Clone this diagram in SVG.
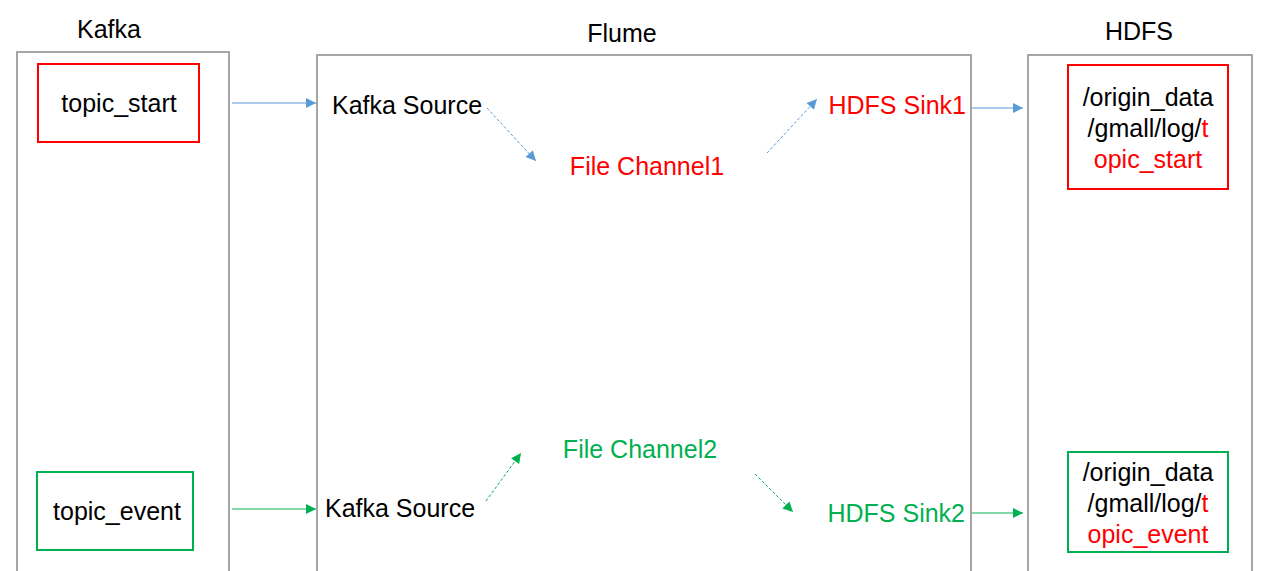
<svg xmlns="http://www.w3.org/2000/svg" width="1269" height="571" viewBox="0 0 1269 571">
<style>
text{font-family:"Liberation Sans",Arial,sans-serif;font-size:25px;fill:#000}
.red{fill:#ff0000}.grn{fill:#00b050}
.cont{fill:none;stroke:#a6a6a6;stroke-width:2}
.rbox{fill:#fff;stroke:#ff0000;stroke-width:2}
.gbox{fill:#fff;stroke:#00b050;stroke-width:2}
.bl{stroke:#8fbbe6;stroke-width:1.5;fill:none}
.gl{stroke:#5ccb8c;stroke-width:1.5;fill:none}
.bd{stroke:#5b9bd5;stroke-width:1;stroke-dasharray:3 2;fill:none}
.gd{stroke:#00b050;stroke-width:1;stroke-dasharray:3 2;fill:none}
</style>
<defs>
<marker id="ab" viewBox="0 0 10 10" refX="10" refY="5" markerWidth="12" markerHeight="10" markerUnits="userSpaceOnUse" orient="auto"><path d="M0,0L10,5L0,10z" fill="#5b9bd5"/></marker>
<marker id="ag" viewBox="0 0 10 10" refX="10" refY="5" markerWidth="12" markerHeight="10" markerUnits="userSpaceOnUse" orient="auto"><path d="M0,0L10,5L0,10z" fill="#00b050"/></marker>
</defs>
<rect width="1269" height="571" fill="#fff"/>
<g id="kafka">
<rect class="cont" x="17" y="52" width="212" height="530"/>
<text x="109" y="38" text-anchor="middle">Kafka</text>
</g>
<g id="flume">
<rect class="cont" x="317" y="55" width="654" height="530"/>
<text x="622" y="42" text-anchor="middle">Flume</text>
</g>
<g id="hdfs">
<rect class="cont" x="1028" y="55" width="224" height="530"/>
<text x="1139" y="40" text-anchor="middle">HDFS</text>
</g>
<g id="topic_start">
<rect class="rbox" x="38" y="64" width="161" height="78"/>
<text x="119" y="112" text-anchor="middle">topic_start</text>
</g>
<g id="topic_event">
<rect class="gbox" x="37" y="472" width="156" height="78"/>
<text x="117" y="520" text-anchor="middle">topic_event</text>
</g>
<g id="kafka_source1"><text x="332" y="114">Kafka Source</text></g>
<g id="file_channel1"><text class="red" x="647" y="175" text-anchor="middle">File Channel1</text></g>
<g id="hdfs_sink1"><text class="red" x="966" y="114" text-anchor="end">HDFS Sink1</text></g>
<g id="kafka_source2"><text x="325" y="517">Kafka Source</text></g>
<g id="file_channel2"><text class="grn" x="640" y="458" text-anchor="middle">File Channel2</text></g>
<g id="hdfs_sink2"><text class="grn" x="965" y="522" text-anchor="end">HDFS Sink2</text></g>
<g id="hdfs_start">
<rect class="rbox" x="1068" y="65" width="160" height="124"/>
<text x="1148" y="106" text-anchor="middle">/origin_data</text>
<text x="1148" y="137" text-anchor="middle">/gmall/log/<tspan class="red">t</tspan></text>
<text class="red" x="1148" y="168" text-anchor="middle">opic_start</text>
</g>
<g id="hdfs_event">
<rect class="gbox" x="1068" y="452" width="160" height="100"/>
<text x="1148" y="481" text-anchor="middle">/origin_data</text>
<text x="1148" y="512" text-anchor="middle">/gmall/log/<tspan class="red">t</tspan></text>
<text class="red" x="1148" y="543" text-anchor="middle">opic_event</text>
</g>
<g id="connectors">
<line class="bl" x1="232" y1="103" x2="316" y2="103" marker-end="url(#ab)"/>
<line class="bd" x1="487" y1="108" x2="536" y2="161" marker-end="url(#ab)"/>
<line class="bd" x1="767" y1="153" x2="817" y2="99" marker-end="url(#ab)"/>
<line class="bl" x1="972" y1="108" x2="1023" y2="108" marker-end="url(#ab)"/>
<line class="gl" x1="232" y1="509" x2="316" y2="509" marker-end="url(#ag)"/>
<line class="gd" x1="486" y1="501" x2="521" y2="453" marker-end="url(#ag)"/>
<line class="gd" x1="755" y1="474" x2="793" y2="512" marker-end="url(#ag)"/>
<line class="gl" x1="972" y1="513" x2="1023" y2="513" marker-end="url(#ag)"/>
</g>
</svg>
